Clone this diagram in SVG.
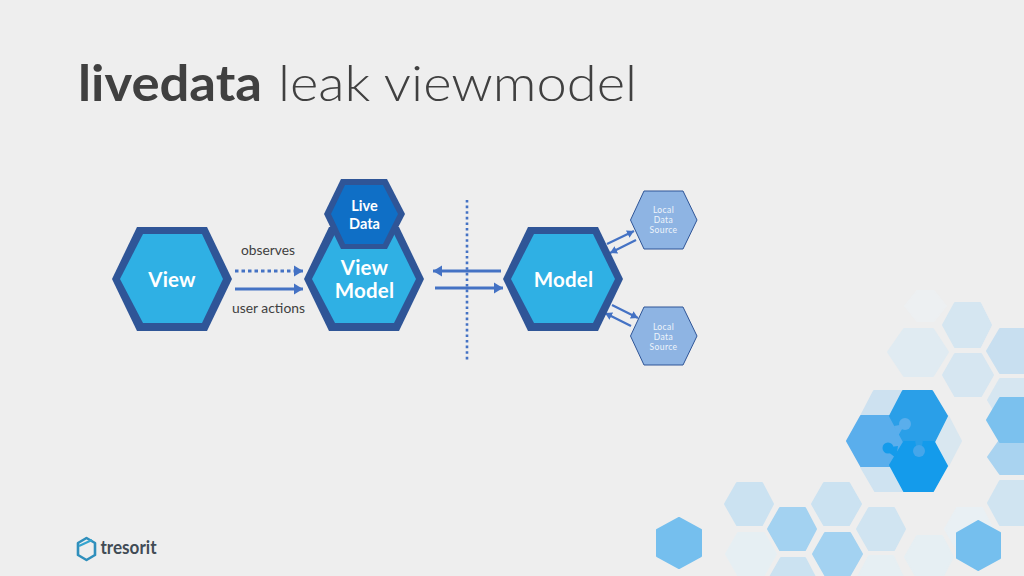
<svg xmlns="http://www.w3.org/2000/svg" width="1024" height="576" viewBox="0 0 1024 576">
<style>
.t{font-family:"Lato","Liberation Sans",sans-serif}
.hexout{fill:#2f5597}
.hexin{fill:#2fb0e4}
.big{font-size:20.500px;font-weight:700;fill:#fff;text-anchor:middle;letter-spacing:.2px}
.mid{font-size:14.500px;font-weight:700;fill:#fff;text-anchor:middle}
.small{font-size:8.500px;font-weight:400;fill:#eef4fb;text-anchor:middle;letter-spacing:.4px}
.lab{font-size:13.500px;fill:#404040}
.local{fill:#8eb4e3;stroke:#2f5597;stroke-width:1}
.arrow{fill:none;stroke:#4472c4;stroke-width:3;marker-end:url(#ah)}
.arrows{fill:none;stroke:#4472c4;stroke-width:2.300;marker-end:url(#ahs)}
.deco polygon{stroke-linejoin:round;stroke-width:2}
</style>
<defs>
<marker id="ah" markerUnits="userSpaceOnUse" markerWidth="10" markerHeight="12" refX="9" refY="6" orient="auto"><path d="M0,0.500L9,6L0,11.500Z" fill="#4472c4"/></marker>
<marker id="ahs" markerUnits="userSpaceOnUse" markerWidth="8" markerHeight="8" refX="7" refY="4" orient="auto"><path d="M0,0L7,4L0,8Z" fill="#4472c4"/></marker>
</defs>
<rect width="1024" height="576" fill="#eeeeee"/>
<g class="deco" id="decoration">
<polygon fill="#edf0f2" stroke="#edf0f2" points="905,306 917,291 934,291 946,306 934,321 917,321"/>
<polygon fill="#d5e6f1" stroke="#d5e6f1" points="943,325 955,303 980,303 991,325 980,347 955,347"/>
<polygon fill="#e0ebf2" stroke="#e0ebf2" points="888,352 904,329 933,329 948,352 933,376 904,376"/>
<polygon fill="#c8dff0" stroke="#c8dff0" points="987,351 1000,329 1040,329 1040,373 1000,373"/>
<polygon fill="#d6e6f1" stroke="#d6e6f1" points="943,375 955,354 981,354 993,375 981,396 955,396"/>
<polygon fill="#d6e6f1" stroke="#d6e6f1" points="988,400 1000,379 1040,379 1040,420 1000,420"/>
<polygon fill="#a9d3f0" stroke="#a9d3f0" points="988,457 1000,440 1040,440 1040,474 1000,474"/>
<polygon fill="#7bc1ee" stroke="#7bc1ee" points="987,420 1000,398 1040,398 1040,442 1000,442"/>
<polygon fill="#d0e4f1" stroke="#d0e4f1" points="988,503 1000,481 1040,481 1040,525 1000,525"/>
<polygon fill="#cbe2f1" stroke="#cbe2f1" points="725,504 737,483 762,483 773,504 762,525 737,525"/>
<polygon fill="#cbe2f1" stroke="#cbe2f1" points="812,504 824,483 849,483 861,504 849,525 824,525"/>
<polygon fill="#a3d2f1" stroke="#a3d2f1" points="768,529 780,508 805,508 816,529 805,550 780,550"/>
<polygon fill="#d0e4f1" stroke="#d0e4f1" points="857,529 869,508 894,508 905,529 894,550 869,550"/>
<polygon fill="#e6eff3" stroke="#e6eff3" points="726,554 738,533 764,533 776,554 764,575 738,575"/>
<polygon fill="#a3d2f1" stroke="#a3d2f1" points="813,554 825,533 850,533 862,554 850,575 825,575"/>
<polygon fill="#cbe2f1" stroke="#cbe2f1" points="769,579 781,558 805,558 816,579 805,600 781,600"/>
<polygon fill="#e6eff3" stroke="#e6eff3" points="857,579 869,556 893,556 904,579 893,600 869,600"/>
<polygon fill="#e6eff3" stroke="#e6eff3" points="905,557 917,536 942,536 953,557 942,578 917,578"/>
<polygon fill="#e9f0f4" stroke="#e9f0f4" points="945,529 957,508 982,508 993,529 982,550 957,550"/>
<polygon fill="#75bfee" stroke="#75bfee" points="679,518 701,530 701,556 679,568 657,556 657,530"/>
<polygon fill="#75bfee" stroke="#75bfee" points="978,521 1000,533 1000,558 978,570 957,558 957,533"/>
<g id="puzzle">
<polygon fill="#cde1f0" stroke="#cde1f0" points="874,391 903,391 890,416 861,416"/>
<polygon fill="#cfe3f1" stroke="#cfe3f1" points="861,467 890,467 904,491 875,491"/>
<polygon fill="#d9e7f0" stroke="#d9e7f0" points="948,416 961,441 948,466 934,442"/>
<polygon fill="#5aaeec" stroke="#5aaeec" points="847,441 861,416 890,416 904,442 890,466 861,466"/>
<polygon fill="#2a9fe8" stroke="#2a9fe8" points="890,416 903,391 932,391 947,416 934,442 904,442"/>
<polygon fill="#149beb" stroke="#149beb" points="890,465 904,442 934,442 947,466 933,491 904,491"/>
<path d="M894,426L905,424L898,436Z" fill="#5aaeec"/>
<circle cx="905" cy="424" r="6" fill="#5aaeec"/>
<path d="M883,448L898,446L896,458Z" fill="#149beb"/>
<circle cx="888" cy="448" r="5.500" fill="#149beb"/>
<path d="M915,440L923,440L921,452L917,452Z" fill="#2a9fe8"/>
<circle cx="919" cy="451" r="6" fill="#45a6ea"/>
</g>
</g>
<text class="t" x="78" y="101" font-size="50" fill="#404040"><tspan font-weight="700" textLength="184" lengthAdjust="spacingAndGlyphs">livedata</tspan><tspan x="278" font-weight="300" textLength="359" lengthAdjust="spacingAndGlyphs">leak viewmodel</tspan></text>
<g id="connectors">
<path class="arrow" stroke-dasharray="3.500 3" d="M235,271H303"/>
<path class="arrow" d="M235,289H303"/>
<path class="arrow" d="M501,271H433"/>
<path class="arrow" d="M435,288H503"/>
<path fill="none" stroke="#4472c4" stroke-width="2.600" stroke-dasharray="2.600 3" d="M467,200V362"/>
<path class="arrows" d="M607,244L634,231"/>
<path class="arrows" d="M636,240L610,253"/>
<path class="arrows" d="M612,305L638,318"/>
<path class="arrows" d="M631,326L605,313"/>
</g>
<g id="view">
<polygon class="hexout" points="112,279 137,227 207,227 232,279 207,331 137,331"/>
<polygon class="hexin" points="120,279 143,234 202,234 223,279 202,323 143,323"/>
<text class="t big" x="172" y="287">View</text>
</g>
<g id="viewmodel">
<polygon class="hexout" points="304,279 329,227 399,227 424,279 399,331 329,331"/>
<polygon class="hexin" points="312,279 335,234 394,234 416,279 394,323 335,323"/>
<text class="t big" x="364.500" y="275">View</text>
<text class="t big" x="364.500" y="298">Model</text>
</g>
<g id="livedata">
<polygon class="hexout" points="324,214 341,179 387,179 405,214 387,249 341,249"/>
<polygon fill="#0f6fc6" points="331,214 345,185 383,185 398,214 383,244 345,244"/>
<text class="t mid" x="364.500" y="211">Live</text>
<text class="t mid" x="364.500" y="229">Data</text>
</g>
<g id="model">
<polygon class="hexout" points="503,279 528,227 598,227 623,279 598,331 528,331"/>
<polygon class="hexin" points="511,279 534,234 593,234 615,279 593,323 534,323"/>
<text class="t big" x="563.500" y="287">Model</text>
</g>
<g id="local1">
<polygon class="local" points="630.500,220 644,191 683,191 697,220 683,249 644,249"/>
<text class="t small" x="663.500" y="212.500">Local</text>
<text class="t small" x="663.500" y="223">Data</text>
<text class="t small" x="663.500" y="233">Source</text>
</g>
<g id="local2">
<polygon class="local" points="630.500,336 644,307 683,307 697,336 683,365 644,365"/>
<text class="t small" x="663.500" y="329.500">Local</text>
<text class="t small" x="663.500" y="340">Data</text>
<text class="t small" x="663.500" y="350">Source</text>
</g>
<text class="t lab" x="241" y="255" textLength="54" lengthAdjust="spacingAndGlyphs">observes</text>
<text class="t lab" x="232" y="313" textLength="73" lengthAdjust="spacingAndGlyphs">user actions</text>
<g id="logo">
<polygon points="86.500,538 95,543 95,555 86.500,560 78,555 78,543" fill="none" stroke="#2f8fbc" stroke-width="2.600" stroke-linejoin="round"/>
<path d="M79,546L92,540" fill="none" stroke="#35a4cf" stroke-width="2.200"/>
<text class="t" x="100.500" y="554" font-size="18.500" font-weight="700" fill="#414b55" textLength="56" lengthAdjust="spacingAndGlyphs">tresorit</text>
</g>
</svg>
